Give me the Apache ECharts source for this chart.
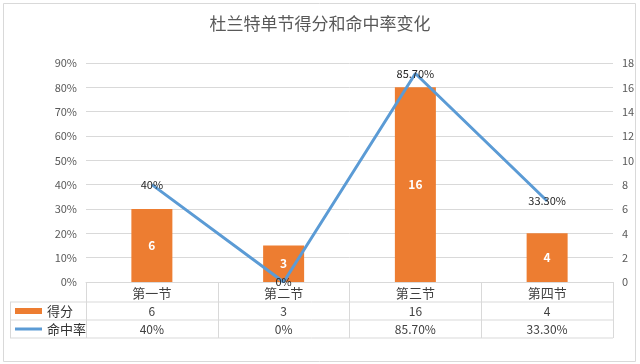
<!DOCTYPE html>
<html><head><meta charset="utf-8">
<script src="https://cdn.jsdelivr.net/npm/echarts@6/dist/echarts.min.js"></script>
<style>html,body{margin:0;padding:0;background:#fff;}#c{width:640px;height:364px;}</style>
</head><body><div id="c"></div>
<script>
const title = '杜兰特单节得分和命中率变化';
const categories = ['第一节', '第二节', '第三节', '第四节'];
const scores = [6, 3, 16, 4];
const rates = [0.40, 0.0, 0.857, 0.333];
const rateLabels = ['40%', '0%', '85.70%', '33.30%'];
const seriesNames = ['得分', '命中率'];
const leftTicks = [0, 0.9, 0.1];
const rightTicks = [0, 18, 2];

const FONT = '"Noto Sans CJK SC", "Microsoft YaHei", sans-serif';
const GRID = {left: 86, right: 27, top: 63, bottom: 82};
const gx0 = GRID.left, gx1 = 640 - GRID.right, gy0 = 364 - GRID.bottom;
const lineC = '#d9d9d9', txt = '#404040';

const chart = echarts.init(document.getElementById('c'));
const graphic = [
  {type: 'rect', shape: {x: 3.5, y: 3.5, width: 632, height: 358}, style: {fill: 'none', stroke: '#d9d9d9', lineWidth: 1}, z: 0},
  {type: 'line', shape: {x1: 10, y1: gy0 + 20, x2: gx1, y2: gy0 + 20}, style: {stroke: lineC, lineWidth: 1}},
  {type: 'line', shape: {x1: 10, y1: gy0 + 38, x2: gx1, y2: gy0 + 38}, style: {stroke: lineC, lineWidth: 1}},
  {type: 'line', shape: {x1: 10, y1: gy0 + 56, x2: gx1, y2: gy0 + 56}, style: {stroke: lineC, lineWidth: 1}},
  {type: 'line', shape: {x1: 10.5, y1: gy0 + 20, x2: 10.5, y2: gy0 + 56}, style: {stroke: lineC, lineWidth: 1}},
  {type: 'rect', shape: {x: 15, y: gy0 + 26, width: 27, height: 6}, style: {fill: '#ED7D31'}},
  {type: 'line', shape: {x1: 15, y1: gy0 + 47, x2: 42, y2: gy0 + 47}, style: {stroke: '#5B9BD5', lineWidth: 3}},
  {type: 'text', x: 47, y: gy0 + 29, style: {text: seriesNames[0], font: '13px ' + FONT, fill: '#333', verticalAlign: 'middle'}},
  {type: 'text', x: 47, y: gy0 + 47, style: {text: seriesNames[1], font: '13px ' + FONT, fill: '#333', verticalAlign: 'middle'}}
];

chart.setOption({
  animation: false,
  backgroundColor: '#fff',
  textStyle: {fontFamily: FONT},
  title: {text: title, left: 'center', top: 10, textStyle: {fontSize: 17, fontWeight: 'normal', color: '#595959', fontFamily: FONT}},
  grid: GRID,
  graphic: graphic,
  xAxis: [
    {type: 'category', data: categories, boundaryGap: true,
     axisLine: {show: true, lineStyle: {color: lineC}},
     axisTick: {show: true, length: 56, lineStyle: {color: lineC}},
     axisLabel: {color: txt, fontSize: 13, margin: 5}},
    {type: 'category', data: scores.map(String), position: 'bottom', offset: 20,
     axisLine: {show: false}, axisTick: {show: false},
     axisLabel: {color: txt, fontSize: 12, margin: 3}},
    {type: 'category', data: rateLabels, position: 'bottom', offset: 38,
     axisLine: {show: false}, axisTick: {show: false},
     axisLabel: {color: txt, fontSize: 12, margin: 3}}
  ],
  yAxis: [
    {type: 'value', min: leftTicks[0], max: leftTicks[1], interval: leftTicks[2],
     axisLine: {show: false}, axisTick: {show: false},
     axisLabel: {color: '#595959', fontSize: 11, margin: 9, formatter: v => Math.round(v * 100) + '%'},
     splitLine: {lineStyle: {color: lineC}}},
    {type: 'value', min: rightTicks[0], max: rightTicks[1], interval: rightTicks[2], position: 'right',
     axisLine: {show: false}, axisTick: {show: false},
     axisLabel: {color: '#595959', fontSize: 11, margin: 9},
     splitLine: {show: false}}
  ],
  series: [
    {name: seriesNames[0], type: 'bar', xAxisIndex: 0, yAxisIndex: 1, data: scores,
     barWidth: 41, itemStyle: {color: '#ED7D31'},
     label: {show: true, position: 'inside', color: '#fff', fontWeight: 'bold', fontSize: 12}},
    {name: seriesNames[1], type: 'line', xAxisIndex: 0, yAxisIndex: 0, data: rates,
     symbol: 'circle', symbolSize: 1, showSymbol: true,
     lineStyle: {color: '#5B9BD5', width: 3}, itemStyle: {color: 'rgba(0,0,0,0)'},
     label: {show: true, position: 'inside', color: '#262626', fontSize: 11,
             formatter: p => rateLabels[p.dataIndex]}, z: 3}
  ]
});
</script></body></html>
